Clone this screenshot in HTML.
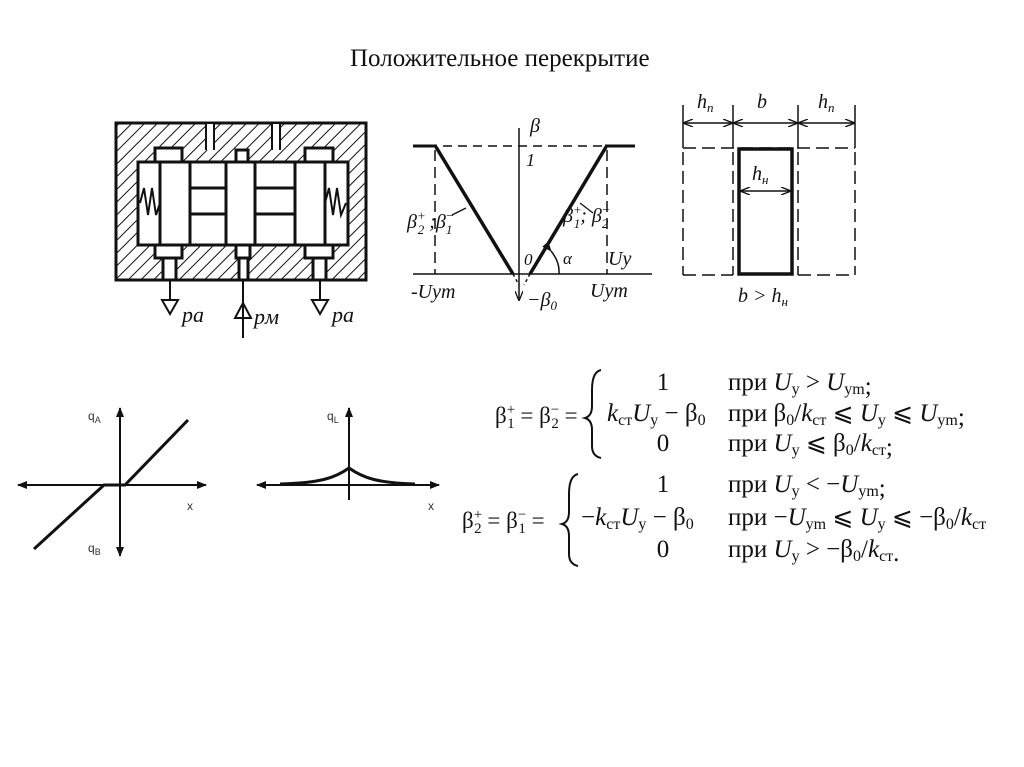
<!DOCTYPE html><html><head><meta charset="utf-8"><style>body{margin:0;background:#fff}svg{display:block}</style></head><body>
<svg width="1024" height="767" viewBox="0 0 1024 767" xmlns="http://www.w3.org/2000/svg" font-family="Liberation Serif, serif">
<defs>
<pattern id="h" width="9" height="9" patternUnits="userSpaceOnUse" patternTransform="rotate(45)"><rect width="9" height="9" fill="#fff"/><line x1="0" y1="0" x2="0" y2="9" stroke="#111" stroke-width="2"/></pattern>
<marker id="a" markerWidth="10" markerHeight="8" refX="9" refY="4" orient="auto-start-reverse" markerUnits="userSpaceOnUse"><path d="M0,0 L10,4 L0,8" fill="none" stroke="#111" stroke-width="1.3"/></marker>
<marker id="af" markerWidth="10" markerHeight="8" refX="9" refY="4" orient="auto" markerUnits="userSpaceOnUse"><path d="M0,0 L10,4 L0,8Z" fill="#111"/></marker>
</defs>
<text x="350" y="66" font-size="25" fill="#111">Положительное перекрытие</text>
<!-- valve -->
<g stroke="#111" stroke-width="3" fill="#fff">
<rect x="116" y="123" width="250" height="157" fill="url(#h)"/>
<rect x="206" y="124" width="8" height="26" stroke="none"/>
<rect x="272" y="124" width="8" height="26" stroke="none"/>
<rect x="138" y="162" width="210" height="83"/>
<rect x="155" y="148" width="27" height="14"/><rect x="236" y="150" width="12" height="12"/><rect x="305" y="148" width="28" height="14"/>
<rect x="155" y="245" width="27" height="13"/><rect x="236" y="245" width="14" height="13"/><rect x="305" y="245" width="28" height="13"/>
<rect x="163" y="258" width="13" height="22"/><rect x="239" y="258" width="9" height="22"/><rect x="313" y="258" width="13" height="22"/>
<rect x="160" y="162" width="30" height="83"/><rect x="226" y="162" width="29" height="83"/><rect x="295" y="162" width="30" height="83"/>
<rect x="190" y="188" width="36" height="26"/><rect x="255" y="188" width="40" height="26"/>
</g>
<g stroke="#111" stroke-width="2"><line x1="206" y1="124" x2="206" y2="150"/><line x1="214" y1="124" x2="214" y2="150"/><line x1="272" y1="124" x2="272" y2="150"/><line x1="280" y1="124" x2="280" y2="150"/></g>
<g fill="none" stroke="#111" stroke-width="2">
<path d="M140,203 L144,188 L148,215 L152,188 L156,215 L160,203"/>
<path d="M325,203 L329,188 L333,215 L337,188 L341,215 L346,203"/>
<line x1="170" y1="280" x2="170" y2="300"/><path d="M162,300 L178,300 L170,314Z"/>
<line x1="320" y1="280" x2="320" y2="300"/><path d="M312,300 L328,300 L320,314Z"/>
<line x1="243" y1="280" x2="243" y2="338"/><path d="M235,318 L251,318 L243,303Z"/>
</g>
<g font-style="italic" font-size="22" fill="#111"><text x="182" y="322">pa</text><text x="254" y="324">pм</text><text x="332" y="322">pa</text></g>
<!-- V chart -->
<g stroke="#111" fill="none">
<line x1="413" y1="146" x2="635" y2="146" stroke-width="1.5" stroke-dasharray="9,6"/>
<line x1="413" y1="146" x2="437" y2="146" stroke-width="3"/><line x1="605" y1="146" x2="635" y2="146" stroke-width="3"/>
<line x1="519" y1="128" x2="519" y2="300" stroke-width="1.5" marker-end="url(#a)"/>
<line x1="413" y1="274" x2="652" y2="274" stroke-width="1.5"/>
<line x1="436" y1="147" x2="513" y2="274" stroke-width="3.5"/>
<line x1="606" y1="147" x2="530" y2="274" stroke-width="3.5"/>
<line x1="513" y1="274" x2="519" y2="285" stroke-width="1.5" stroke-dasharray="3,3"/>
<line x1="530" y1="274" x2="524" y2="285" stroke-width="1.5" stroke-dasharray="3,3"/>
<line x1="435" y1="150" x2="435" y2="274" stroke-width="1.5" stroke-dasharray="11,6"/>
<line x1="607" y1="150" x2="607" y2="274" stroke-width="1.5" stroke-dasharray="11,6"/>
<line x1="452" y1="215" x2="466" y2="208" stroke-width="1.3"/><line x1="580" y1="203" x2="593" y2="213" stroke-width="1.3"/>
<path d="M551,251 Q560,262 559,274" stroke-width="1.5" marker-start="url(#af)"/>
</g>
<g font-style="italic" font-size="20" fill="#111">
<text x="530" y="132">β</text><text x="526" y="166" font-size="18">1</text>
<text x="407" y="228">β<tspan font-size="13" dy="-8">+</tspan><tspan font-size="13" dx="-8" dy="14">2</tspan><tspan dy="-6"> ;β</tspan><tspan font-size="13" dy="6">1</tspan><tspan font-size="13" dx="-7" dy="-14">−</tspan></text>
<text x="563" y="222">β<tspan font-size="13" dy="-8">+</tspan><tspan font-size="13" dx="-8" dy="14">1</tspan><tspan dy="-6">; β</tspan><tspan font-size="13" dy="6">2</tspan><tspan font-size="13" dx="-7" dy="-14">−</tspan></text>
<text x="524" y="265" font-size="17">0</text><text x="563" y="264" font-size="17">α</text>
<text x="608" y="265">Uy</text>
<text x="411" y="298">-Uym</text><text x="527" y="306">−β<tspan font-size="13" dy="4">0</tspan></text>
<text x="590" y="297">Uym</text>
</g>
<!-- rectangle diagram -->
<g stroke="#111" fill="none">
<g stroke-width="1.5"><line x1="683" y1="105" x2="683" y2="148"/><line x1="733" y1="105" x2="733" y2="148"/><line x1="798" y1="105" x2="798" y2="148"/><line x1="855" y1="105" x2="855" y2="148"/>
<line x1="684" y1="123" x2="732" y2="123" marker-end="url(#a)" marker-start="url(#a)"/>
<line x1="734" y1="123" x2="797" y2="123" marker-end="url(#a)" marker-start="url(#a)"/>
<line x1="799" y1="123" x2="854" y2="123" marker-end="url(#a)" marker-start="url(#a)"/>
<line x1="741" y1="191" x2="790" y2="191" marker-end="url(#a)" marker-start="url(#a)"/></g>
<g stroke-width="1.5" stroke-dasharray="13,6"><line x1="683" y1="148" x2="855" y2="148"/><line x1="683" y1="152" x2="683" y2="275"/><line x1="733" y1="152" x2="733" y2="275"/><line x1="798" y1="152" x2="798" y2="275"/><line x1="855" y1="152" x2="855" y2="275"/><line x1="683" y1="275" x2="733" y2="275"/><line x1="798" y1="275" x2="855" y2="275"/></g>
<rect x="739" y="149" width="53" height="125" stroke-width="3.5"/>
</g>
<g font-style="italic" font-size="20" fill="#111"><text x="697" y="108">h<tspan font-size="13" dy="4">n</tspan></text><text x="757" y="108">b</text><text x="818" y="108">h<tspan font-size="13" dy="4">n</tspan></text>
<text x="752" y="180">h<tspan font-size="13" dy="4">н</tspan></text><text x="738" y="302">b &gt; h<tspan font-size="13" dy="4">н</tspan></text></g>
<!-- bottom charts -->
<g stroke="#111" fill="none" stroke-width="2">
<line x1="120" y1="485" x2="18" y2="485" marker-end="url(#af)"/><line x1="120" y1="485" x2="206" y2="485" marker-end="url(#af)"/>
<line x1="120" y1="485" x2="120" y2="408" marker-end="url(#af)"/><line x1="120" y1="485" x2="120" y2="556" marker-end="url(#af)"/>
<path d="M34,549 L104,485 L125,485 L188,420" stroke-width="3"/>
<line x1="349" y1="485" x2="257" y2="485" marker-end="url(#af)"/><line x1="349" y1="485" x2="439" y2="485" marker-end="url(#af)"/>
<line x1="349" y1="500" x2="349" y2="408" marker-end="url(#af)"/>
<path d="M280,484 C320,483 335,478 349,468 C363,478 378,483 415,484" stroke-width="3"/>
</g>
<g font-family="Liberation Sans, sans-serif" font-size="12" fill="#333"><text x="88" y="420">q<tspan font-size="9" dy="3">A</tspan></text><text x="88" y="552">q<tspan font-size="9" dy="3">B</tspan></text><text x="187" y="510">x</text>
<text x="327" y="420">q<tspan font-size="9" dy="3">L</tspan></text><text x="428" y="510">x</text></g>
<!-- formulas -->
<g font-size="25" fill="#111">
<text x="495" y="423" font-size="23">β<tspan font-size="15" dy="-9">+</tspan><tspan font-size="15" dx="-8" dy="14">1</tspan><tspan dy="-5"> = β</tspan><tspan font-size="15" dy="-9">−</tspan><tspan font-size="15" dx="-8" dy="14">2</tspan><tspan dy="-5"> =</tspan></text>
<text x="462" y="528" font-size="23">β<tspan font-size="15" dy="-9">+</tspan><tspan font-size="15" dx="-8" dy="14">2</tspan><tspan dy="-5"> = β</tspan><tspan font-size="15" dy="-9">−</tspan><tspan font-size="15" dx="-8" dy="14">1</tspan><tspan dy="-5"> =</tspan></text>
<path d="M601,370 Q592,372 592,390 L592,406 Q592,416 585,418 Q592,420 592,430 L592,446 Q592,456 601,458" fill="none" stroke="#111" stroke-width="2"/>
<path d="M578,474 Q569,476 569,494 L569,512 Q569,522 562,524 Q569,526 569,536 L569,554 Q569,564 578,566" fill="none" stroke="#111" stroke-width="2"/>
<text x="663" y="390" text-anchor="middle">1</text>
<text x="607" y="421"><tspan font-style="italic">k</tspan><tspan font-size="16" dy="4">ст</tspan><tspan dy="-4" font-style="italic">U</tspan><tspan font-size="16" dy="4">у</tspan><tspan dy="-4"> − β</tspan><tspan font-size="16" dy="4">0</tspan></text>
<text x="663" y="451" text-anchor="middle">0</text>
<text x="728" y="390">при <tspan font-style="italic">U</tspan><tspan font-size="16" dy="4">у</tspan><tspan dy="-4"> &gt; </tspan><tspan font-style="italic">U</tspan><tspan font-size="16" dy="4">уm</tspan>;</text>
<text x="728" y="421">при β<tspan font-size="16" dy="4">0</tspan><tspan dy="-4">/</tspan><tspan font-style="italic">k</tspan><tspan font-size="16" dy="4">ст</tspan><tspan dy="-4"> ⩽ </tspan><tspan font-style="italic">U</tspan><tspan font-size="16" dy="4">у</tspan><tspan dy="-4"> ⩽ </tspan><tspan font-style="italic">U</tspan><tspan font-size="16" dy="4">уm</tspan>;</text>
<text x="728" y="451">при <tspan font-style="italic">U</tspan><tspan font-size="16" dy="4">у</tspan><tspan dy="-4"> ⩽ β</tspan><tspan font-size="16" dy="4">0</tspan><tspan dy="-4">/</tspan><tspan font-style="italic">k</tspan><tspan font-size="16" dy="4">ст</tspan>;</text>
<text x="663" y="492" text-anchor="middle">1</text>
<text x="581" y="525">−<tspan font-style="italic">k</tspan><tspan font-size="16" dy="4">ст</tspan><tspan dy="-4" font-style="italic">U</tspan><tspan font-size="16" dy="4">у</tspan><tspan dy="-4"> − β</tspan><tspan font-size="16" dy="4">0</tspan></text>
<text x="663" y="557" text-anchor="middle">0</text>
<text x="728" y="492">при <tspan font-style="italic">U</tspan><tspan font-size="16" dy="4">у</tspan><tspan dy="-4"> &lt; −</tspan><tspan font-style="italic">U</tspan><tspan font-size="16" dy="4">уm</tspan>;</text>
<text x="728" y="525">при −<tspan font-style="italic">U</tspan><tspan font-size="16" dy="4">уm</tspan><tspan dy="-4"> ⩽ </tspan><tspan font-style="italic">U</tspan><tspan font-size="16" dy="4">у</tspan><tspan dy="-4"> ⩽ −β</tspan><tspan font-size="16" dy="4">0</tspan><tspan dy="-4">/</tspan><tspan font-style="italic">k</tspan><tspan font-size="16" dy="4">ст</tspan></text>
<text x="728" y="557">при <tspan font-style="italic">U</tspan><tspan font-size="16" dy="4">у</tspan><tspan dy="-4"> &gt; −β</tspan><tspan font-size="16" dy="4">0</tspan><tspan dy="-4">/</tspan><tspan font-style="italic">k</tspan><tspan font-size="16" dy="4">ст</tspan>.</text>
</g>
</svg>
</body></html>
